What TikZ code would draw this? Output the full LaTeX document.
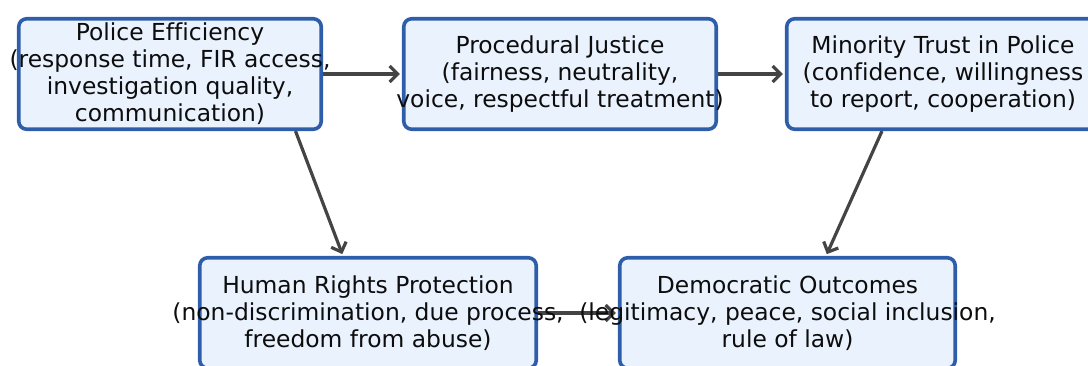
\documentclass[tikz,border=0pt]{standalone}
\usepackage{fontspec}
\setmainfont{DejaVu Sans}[Ligatures=NoCommon]
\usetikzlibrary{arrows.meta}
\pgfdeclarelayer{background}
\pgfsetlayers{background,main}
\definecolor{boxfill}{RGB}{234,242,254}
\definecolor{boxline}{RGB}{46,93,170}
\definecolor{arrowgray}{RGB}{68,68,68}
\tikzset{
  box/.style={draw=boxline, fill=boxfill, line width=3.6pt, rounded corners=8pt,
              inner sep=0pt, minimum height=110.5pt},
  lbl/.style={align=center, inner sep=0pt, text=black!95,
              font=\fontsize{23.4}{27}\selectfont},
  link/.style={draw=arrowgray, line width=3.2pt,
               -{Straight Barb[length=8pt,width=16pt]}, shorten >=2pt}
}
\begin{document}
\begin{tikzpicture}[x=1pt,y=-1pt]
  \useasboundingbox (0,0) rectangle (1088,365);
  \clip (0,0) rectangle (1088,365);

  % boxes
  \node[box, minimum width=302.5pt] (b1) at (170,74) {};
  \node[box, minimum width=312.5pt] (b2) at (560,74) {};
  \node[box, minimum width=312.5pt] (b3) at (943,74) {};
  \node[box, minimum width=336.5pt] (b4) at (368,313) {};
  \node[box, minimum width=335.5pt] (b5) at (787.5,313) {};

  % labels
  \node[lbl] (t1) at (b1) {Police Efficiency\\(response time, FIR access,\\investigation quality,\\communication)};
  \node[lbl] (t2) at (b2) {Procedural Justice\\(fairness, neutrality,\\voice, respectful treatment)};
  \node[lbl] (t3) at (b3) {Minority Trust in Police\\(confidence, willingness\\to report, cooperation)};
  \node[lbl] (t4) at (b4) {Human Rights Protection\\(non-discrimination, due process,\\freedom from abuse)};
  \node[lbl] (t5) at (b5) {Democratic Outcomes\\(legitimacy, peace, social inclusion,\\rule of law)};

  % connectors
  \begin{pgfonlayer}{background}
    \draw[link] (b1.east) -- (b2.west);
    \draw[link] (b2.east) -- (b3.west);
    \draw[link] ([xshift=125.5pt]b1.south) -- ([xshift=-25pt]b4.north);
    \draw[link] ([xshift=-61pt]b3.south) -- ([xshift=38.5pt]b5.north);
    \draw[link] (b4.east) -- (b5.west);
  \end{pgfonlayer}
\end{tikzpicture}
\end{document}
